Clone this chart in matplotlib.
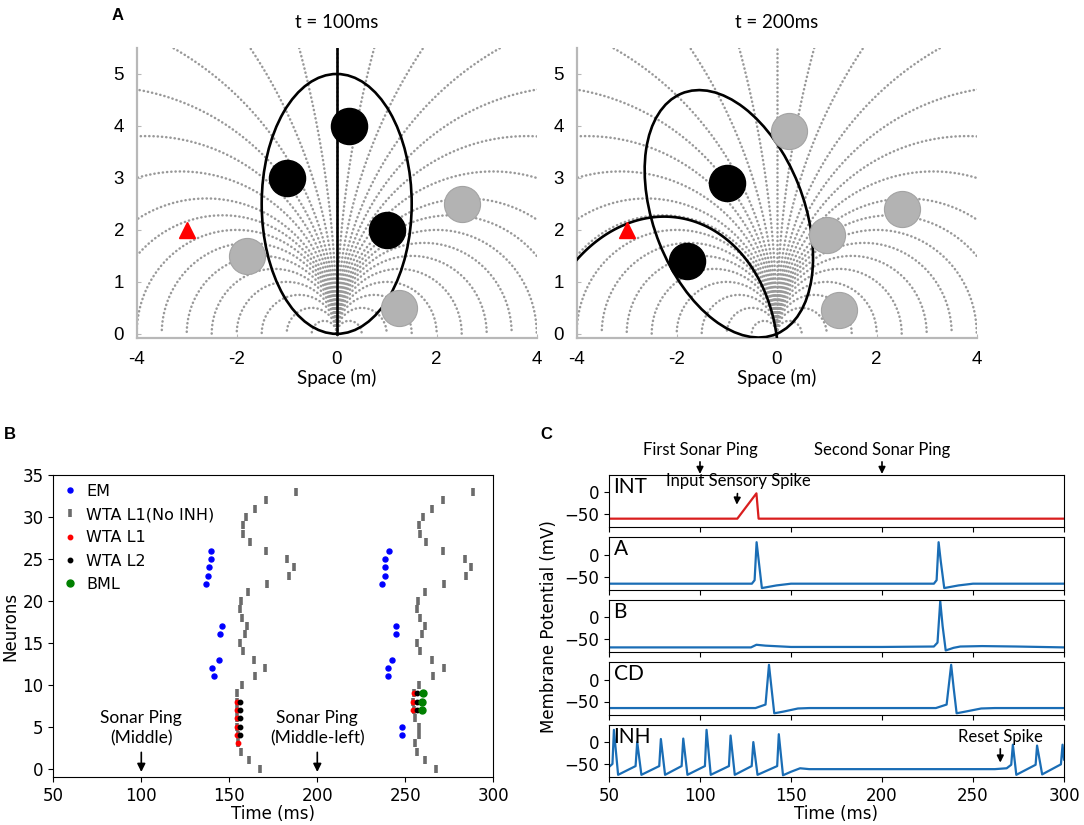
import numpy as np
import matplotlib.pyplot as plt
from matplotlib.patches import Ellipse

W, H = 1084, 825

# ---------------- panel A : scene ----------------
# field lines, given by where they meet the frame
bottom_hits = [0.5, 1.0, 1.5, 2.0, 2.5, 3.0, 3.5, 4.0]   # meet y=0 at +-x
edge_hits = [1.5, 2.2, 3.0, 3.8, 4.7]                    # leave x=+-4 at y
top_hits = [3.27, 1.73, 0.75]                            # leave y=5.5 at +-x

black_x_100 = [0.25, -1.0, 1.0]
black_y_100 = [4.0, 3.0, 2.0]
gray_x_100 = [2.5, -1.8, 1.25]
gray_y_100 = [2.5, 1.5, 0.5]
black_x_200 = [-1.0, -1.8]
black_y_200 = [2.9, 1.4]
gray_x_200 = [0.25, 1.0, 2.5, 1.25]
gray_y_200 = [3.9, 1.9, 2.4, 0.45]
target_x, target_y = -3.0, 2.0
beam_angles_100 = [0.0]
beam_angles_200 = [22.5]
beam_len, beam_wid = 5.0, 3.0
# second (left) beam at t=200
beam2_x = [0.0, -0.03, -0.2, -0.47, -0.8, -1.2, -1.67, -2.27, -3.0, -3.67, -4.0]
beam2_y = [0.0, 0.08, 0.72, 1.24, 1.65, 1.94, 2.17, 2.26, 2.12, 1.72, 1.43]

# ---------------- panel B : raster ----------------
em_t = [139.8, 139.6, 138.4, 137.9, 136.9, 145.8, 144.7, 143.9, 140.2, 141.1,
        240.5, 238.6, 238.6, 238.6, 236.6, 244.7, 244.7, 242.2, 240.0, 240.0, 248.3, 248.3]
em_n = [26, 25, 24, 23, 22, 17, 16, 13, 12, 11,
        26, 25, 24, 23, 22, 17, 16, 13, 12, 11, 5, 4]
neurons = list(range(33, -1, -1))
noinh_t1 = [187.9, 171.0, 164.8, 159.5, 157.8, 158.0, 161.6, 171.0, 183.0, 187.0, 183.7,
            171.6, 160.6, 156.8, 156.3, 157.4, 159.8, 158.7, 156.3, 157.6, 163.8, 170.3,
            164.4, 157.2, 154.5, 154.5, 154.5, 154.5, 154.5, 155.0, 155.0, 156.6, 161.4, 167.6]
noinh_t2 = [288.3, 271.4, 265.0, 260.0, 258.0, 258.3, 261.7, 271.6, 283.9, 287.5, 284.5,
            272.0, 261.2, 257.2, 256.6, 258.1, 261.2, 259.7, 256.8, 258.3, 265.3, 272.0,
            265.5, 257.8, 255.0, 254.5, 255.0, 255.5, 258.0, 258.0, 255.7, 256.8, 261.4, 267.2]
l1_t = [154.2, 154.2, 154.2, 154.3, 154.5, 154.7, 254.7, 254.2, 254.5]
l1_n = [8, 7, 6, 5, 4, 3, 9, 8, 7]
l2_t = [156.0, 156.0, 156.0, 156.0, 156.0, 256.4, 256.4, 256.4]
l2_n = [8, 7, 6, 5, 4, 9, 8, 7]
bml_t = [259.8, 259.3, 259.6]
bml_n = [9, 8, 7]
pings_b = [100, 200]
ping_labels_b = ['Sonar Ping\n(Middle)', 'Sonar Ping\n(Middle-left)']

# ---------------- panel C : membrane potentials ----------------
int_t = [50, 120.5, 131.0, 132.2, 300]
int_v = [-60, -60, -2, -60, -60]
a_t = [50, 128.5, 130.0, 131.1, 132.3, 134.0, 142, 150, 160, 228.5, 230.0, 231.1, 232.3, 234.2, 242, 250, 260, 300]
a_v = [-66, -66, -58, 29, -15, -76, -70, -66, -66, -66, -58, 29, -15, -76, -70, -66, -66, -66]
b_t = [50, 128, 131, 136, 150, 200, 228.5, 230.5, 232.0, 233.3, 235.0, 239.3, 243, 255, 274, 300]
b_v = [-69, -69, -63, -65, -68, -68, -67, -58, 37, -20, -76, -70, -67, -66, -67, -69]
cd_t = [50, 130.5, 136.0, 137.9, 139.3, 140.8, 146, 153.8, 160, 229.6, 235.5, 238.0, 239.4, 241.0, 246, 254.5, 262, 300]
cd_v = [-65, -65, -57, 34, -20, -77, -73, -66, -65, -65, -57, 34, -20, -77, -73, -66, -65, -65]
inh_t = [50, 51.9, 52.7, 55.0, 64.6, 65.5, 67.8, 77.6, 78.5, 80.8, 89.9, 90.8, 93.1,
         102.7, 103.6, 105.9, 115.9, 116.8, 119.1, 128.4, 129.3, 131.6, 142.4, 143.3, 145.6,
         150, 155, 160, 165, 200, 262, 268.5, 271.0, 271.9, 273.8, 284.4, 285.2, 288.0,
         298.3, 299.2, 300]
inh_v = [-57, -50, 28, -75, -55, 0, -75, -55, 7, -75, -55, 8, -75,
         -55, 28, -75, -55, 15, -75, -55, 0, -75, -55, 18, -76,
         -68, -60, -62, -62, -62, -62, -60, -52, -6, -75, -52, -8, -74,
         -51, -6, -40]
traces = [('INT', int_t, int_v, '#d91e1e'), ('A', a_t, a_v, '#1a6db5'),
          ('B', b_t, b_v, '#1a6db5'), ('CD', cd_t, cd_v, '#1a6db5'),
          ('INH', inh_t, inh_v, '#1a6db5')]

fig = plt.figure(figsize=(W / 100, H / 100), dpi=100)


def box(l, t, r, b):
    return [l / W, 1 - b / H, (r - l) / W, (b - t) / H]


def scene(ax, bx, by, gx, gy, angles, solid_axis):
    th = np.linspace(0, np.pi, 500)
    radii = [x / 2 for x in bottom_hits] + [(y ** 2 + 16) / 8 for y in edge_hits] \
        + [(x ** 2 + 5.5 ** 2) / (2 * x) for x in top_hits]
    for R in radii:
        for s in (-1, 1):
            ax.plot(s * (R - R * np.cos(th)), R * np.sin(th), color='0.6', lw=1.8,
                    ls=(0, (0.1, 1.6)), dash_capstyle='round', zorder=1)
    ax.plot([0, 0], [0, 5.5], color='0.6', lw=1.8, ls=(0, (0.1, 1.6)),
            dash_capstyle='round', zorder=1)
    for a in angles:
        r = np.radians(a)
        ax.add_patch(Ellipse((-beam_len / 2 * np.sin(r), beam_len / 2 * np.cos(r)),
                             beam_wid, beam_len, angle=a, fill=False, ec='black', lw=1.9, zorder=3))
    if solid_axis:
        ax.plot([0, 0], [0, 5.5], color='black', lw=1.9, zorder=3)
    ax.plot(gx, gy, 'o', ms=26, mfc='#b3b3b3', mec='#a3a3a3', mew=0.8, zorder=4)
    ax.plot(bx, by, 'o', ms=26, mfc='black', mec='black', zorder=4)
    ax.plot([target_x], [target_y], '^', ms=11, color='#ff0000', mec='#ff0000', zorder=4)
    ax.set_xlim(-4, 4)
    ax.set_ylim(-0.08, 5.5)
    ax.set_xticks([-4, -2, 0, 2, 4])
    ax.set_xticklabels(['-4', '-2', '0', '2', '4'])
    ax.set_yticks(range(6))
    for s in ('top', 'right'):
        ax.spines[s].set_visible(False)
    for s in ('left', 'bottom'):
        ax.spines[s].set_color('#b8b8b8')
        ax.spines[s].set_linewidth(1.6)
    ax.tick_params(direction='in', color='#b8b8b8', length=3, labelsize=13.5, pad=9)
    for lab in ax.get_xticklabels() + ax.get_yticklabels():
        lab.set_family('Liberation Sans')


axA1 = fig.add_axes(box(136.7, 48, 536.7, 338))
scene(axA1, black_x_100, black_y_100, gray_x_100, gray_y_100, beam_angles_100, True)
axA2 = fig.add_axes(box(576.7, 48, 976.7, 338))
scene(axA2, black_x_200, black_y_200, gray_x_200, gray_y_200, beam_angles_200, False)

# fit a conic through the read outline of the second beam and draw its zero contour
bx2, by2 = np.array(beam2_x), np.array(beam2_y)
M = np.column_stack([bx2 ** 2, bx2 * by2, by2 ** 2, bx2, by2, np.ones_like(bx2)])
coef = np.linalg.svd(M)[2][-1]
gx, gy = np.meshgrid(np.linspace(-4.3, 0.5, 600), np.linspace(-0.5, 5.5, 600))
F = (coef[0] * gx ** 2 + coef[1] * gx * gy + coef[2] * gy ** 2 + coef[3] * gx
     + coef[4] * gy + coef[5])
axA2.contour(gx, gy, F, levels=[0], colors='black', linewidths=1.9, zorder=3)
axA2.set_xlim(-4, 4)
axA2.set_ylim(-0.08, 5.5)

for cx, title in ((336.7, 't = 100ms'), (776.7, 't = 200ms')):
    fig.text(cx / W, 1 - 23 / H, title, ha='center', va='center', fontsize=13.5, family='Lato')
    fig.text(cx / W, 1 - 378 / H, 'Space (m)', ha='center', va='center', fontsize=13.5, family='Lato')

# ---------------- panel B ----------------
axB = fig.add_axes(box(53.3, 475, 493.3, 777))
h_gray, = axB.plot(noinh_t1 + noinh_t2, neurons + neurons, '|', color='0.42', ms=6, mew=2.6,
                   ls='none', label='WTA L1(No INH)', zorder=2)
h_em, = axB.plot(em_t, em_n, 'o', color='blue', ms=3.6, ls='none', label='EM', zorder=3)
h_l1, = axB.plot(l1_t, l1_n, 'o', color='red', ms=3.2, ls='none', label='WTA L1', zorder=3)
h_l2, = axB.plot(l2_t, l2_n, 'o', color='black', ms=3.2, ls='none', label='WTA L2', zorder=3)
h_bml, = axB.plot(bml_t, bml_n, 'o', color='green', ms=5, ls='none', label='BML', zorder=3)
axB.legend(handles=[h_em, h_gray, h_l1, h_l2, h_bml], loc='upper left', frameon=False,
           fontsize=11.5, handlelength=1.0, handletextpad=0.5, labelspacing=0.52,
           borderaxespad=0.3, borderpad=0.25)
for p, lab in zip(pings_b, ping_labels_b):
    axB.annotate(lab, xy=(p, -0.4), xytext=(p, 2.6), ha='center', va='bottom', fontsize=12.5,
                 family='Lato', linespacing=1.35,
                 arrowprops=dict(arrowstyle='-|>', color='black', lw=1.2, shrinkA=2, shrinkB=0,
                                 mutation_scale=12))
axB.set_xlim(50, 300)
axB.set_ylim(-1, 35)
axB.set_xticks(range(50, 301, 50))
axB.set_yticks(range(0, 36, 5))
axB.tick_params(labelsize=12)
axB.set_xlabel('Time (ms)', fontsize=12, labelpad=0.5)
axB.set_ylabel('Neurons', fontsize=12, labelpad=2)

# ---------------- panel C ----------------
tops = [475, 537.4, 599.8, 662.2, 724.6]
axes_c = []
for top, (name, t, v, col) in zip(tops, traces):
    ax = fig.add_axes(box(609, top, 1064, top + 52.4))
    ax.plot(t, v, color=col, lw=1.6)
    ax.set_xlim(50, 300)
    ax.set_ylim(-80, 40)
    ax.set_yticks([0, -50])
    ax.set_xticks(range(50, 301, 50))
    ax.tick_params(labelsize=12)
    ax.text(0.01, 0.77, name, transform=ax.transAxes, fontsize=15, family='Lato',
            va='center', ha='left')
    if name != 'INH':
        ax.tick_params(labelbottom=False)
    axes_c.append(ax)
axes_c[-1].set_xlabel('Time (ms)', fontsize=12, labelpad=0.5)

ax_int = axes_c[0]
for p, lab in ((100, 'First Sonar Ping'), (200, 'Second Sonar Ping')):
    ax_int.annotate(lab, xy=(p, 1.02), xytext=(p, 1.33), xycoords=('data', 'axes fraction'),
                    textcoords=('data', 'axes fraction'), ha='center', va='bottom', fontsize=12,
                    family='Lato', annotation_clip=False,
                    arrowprops=dict(arrowstyle='-|>', color='black', lw=1.2, shrinkA=1, shrinkB=0,
                                    mutation_scale=10))
ax_int.annotate('Input Sensory Spike', xy=(120.2, -28), xytext=(121, 7), ha='center',
                va='bottom', fontsize=12, family='Lato',
                arrowprops=dict(arrowstyle='-|>', color='black', lw=1.2, shrinkA=1, shrinkB=0,
                                mutation_scale=10))
axes_c[-1].annotate('Reset Spike', xy=(265, -47), xytext=(265, -6), ha='center', va='bottom',
                    fontsize=12, family='Lato',
                    arrowprops=dict(arrowstyle='-|>', color='black', lw=1.2, shrinkA=1, shrinkB=0,
                                    mutation_scale=10))

fig.text(549 / W, 1 - 627 / H, 'Membrane Potential (mV)', rotation=90, ha='center',
         va='center', fontsize=12)

fig.text(118 / W, 1 - 15 / H, 'A', weight='bold', fontsize=12, ha='center', va='center',
         family='Liberation Sans')
fig.text(10 / W, 1 - 435 / H, 'B', weight='bold', fontsize=12, ha='center', va='center',
         family='Liberation Sans')
fig.text(546 / W, 1 - 435 / H, 'C', weight='bold', fontsize=12, ha='center', va='center',
         family='Liberation Sans')

fig.savefig('out.png', dpi=100)
